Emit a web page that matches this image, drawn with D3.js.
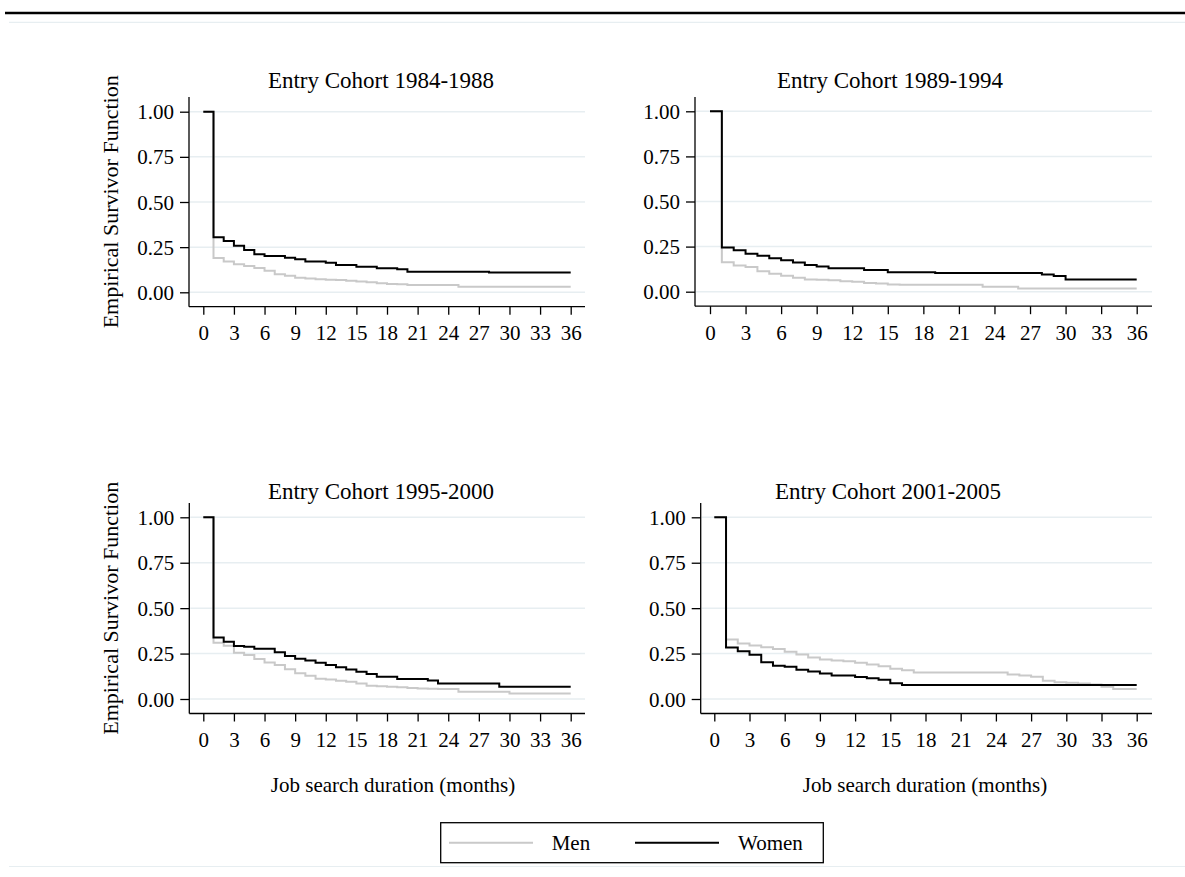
<!DOCTYPE html>
<html>
<head>
<meta charset="utf-8">
<script src="https://cdn.jsdelivr.net/npm/d3@7"></script>
<style>
  html, body { margin: 0; padding: 0; background: #fff; }
  svg text { font-family: "Liberation Serif", "Times New Roman", serif; fill: #000; }
</style>
</head>
<body>
<svg id="chart" width="1185" height="877"></svg>
<script>
// ---------------- DATA ----------------
const months = d3.range(0, 37);
const xTicks = [0, 3, 6, 9, 12, 15, 18, 21, 24, 27, 30, 33, 36];
const yTicks = [0, 0.25, 0.5, 0.75, 1];
const cohorts = ["Entry Cohort 1984-1988", "Entry Cohort 1989-1994", "Entry Cohort 1995-2000", "Entry Cohort 2001-2005"];
const seriesNames = ["Men", "Women"];

// Survivor values S(t) for t in [m, m+1), m = 0..36
const men1984 = [1, 0.19, 0.17, 0.155, 0.145, 0.135, 0.12, 0.10, 0.092, 0.08, 0.076, 0.072, 0.07, 0.068, 0.064, 0.06, 0.056, 0.05, 0.046, 0.044, 0.04, 0.04, 0.04, 0.04, 0.04, 0.031, 0.031, 0.031, 0.031, 0.031, 0.031, 0.031, 0.031, 0.031, 0.031, 0.031, 0.031];
const women1984 = [1, 0.305, 0.284, 0.258, 0.234, 0.21, 0.201, 0.201, 0.192, 0.183, 0.17, 0.17, 0.164, 0.151, 0.151, 0.142, 0.142, 0.133, 0.133, 0.127, 0.114, 0.114, 0.114, 0.114, 0.114, 0.114, 0.114, 0.114, 0.11, 0.11, 0.11, 0.11, 0.11, 0.11, 0.11, 0.11, 0.11];
const men1989 = [1, 0.163, 0.145, 0.137, 0.113, 0.1, 0.088, 0.078, 0.068, 0.066, 0.064, 0.058, 0.055, 0.048, 0.046, 0.04, 0.039, 0.039, 0.039, 0.039, 0.039, 0.039, 0.039, 0.028, 0.028, 0.028, 0.018, 0.018, 0.018, 0.018, 0.018, 0.018, 0.018, 0.018, 0.018, 0.018, 0.018];
const women1989 = [1, 0.245, 0.23, 0.21, 0.199, 0.185, 0.175, 0.162, 0.148, 0.139, 0.13, 0.13, 0.13, 0.12, 0.12, 0.108, 0.108, 0.108, 0.108, 0.103, 0.103, 0.103, 0.103, 0.103, 0.103, 0.103, 0.103, 0.103, 0.095, 0.087, 0.067, 0.067, 0.067, 0.067, 0.067, 0.067, 0.067];
const men1995 = [1, 0.31, 0.293, 0.255, 0.242, 0.22, 0.201, 0.187, 0.164, 0.142, 0.128, 0.112, 0.108, 0.1, 0.095, 0.085, 0.073, 0.07, 0.068, 0.064, 0.06, 0.058, 0.056, 0.055, 0.055, 0.04, 0.04, 0.04, 0.04, 0.04, 0.03, 0.03, 0.03, 0.03, 0.03, 0.03, 0.03];
const women1995 = [1, 0.339, 0.315, 0.292, 0.287, 0.277, 0.277, 0.257, 0.236, 0.221, 0.212, 0.199, 0.187, 0.175, 0.163, 0.15, 0.138, 0.123, 0.123, 0.11, 0.11, 0.11, 0.102, 0.085, 0.085, 0.085, 0.085, 0.085, 0.085, 0.068, 0.068, 0.068, 0.068, 0.068, 0.068, 0.068, 0.068];
const men2001 = [1, 0.327, 0.305, 0.294, 0.285, 0.275, 0.26, 0.245, 0.228, 0.218, 0.212, 0.208, 0.2, 0.19, 0.18, 0.167, 0.158, 0.146, 0.146, 0.146, 0.146, 0.146, 0.146, 0.146, 0.146, 0.135, 0.13, 0.123, 0.101, 0.092, 0.09, 0.085, 0.08, 0.068, 0.055, 0.055, 0.055];
const women2001 = [1, 0.284, 0.263, 0.243, 0.202, 0.183, 0.178, 0.161, 0.152, 0.141, 0.13, 0.13, 0.121, 0.114, 0.106, 0.086, 0.077, 0.077, 0.077, 0.077, 0.077, 0.077, 0.077, 0.077, 0.077, 0.077, 0.077, 0.077, 0.077, 0.077, 0.077, 0.077, 0.077, 0.077, 0.077, 0.077, 0.077];

const menSeries = [men1984, men1989, men1995, men2001];
const womenSeries = [women1984, women1989, women1995, women2001];

// ---------------- LAYOUT ----------------
const panels = [
  { axisX: 189, right: 585, x0: 203.3, x36: 570.7, y0: 292.3, y1: 111.7, top: 97, bottom: 306.7, titleX: 381, titleY: 88, yTitle: true, xTitle: false, xTitleX: 0 },
  { axisX: 695, right: 1152, x0: 710, x36: 1136.7, y0: 291.7, y1: 111.3, top: 97, bottom: 306.2, titleX: 890, titleY: 88, yTitle: false, xTitle: false, xTitleX: 0 },
  { axisX: 189.3, right: 585, x0: 203.3, x36: 570.7, y0: 699, y1: 517.3, top: 503, bottom: 713.5, titleX: 381, titleY: 499, yTitle: true, xTitle: true, xTitleX: 393 },
  { axisX: 700.7, right: 1152, x0: 714.3, x36: 1136.7, y0: 699, y1: 517.3, top: 503, bottom: 713.5, titleX: 888, titleY: 499, yTitle: false, xTitle: true, xTitleX: 925 }
];
const FS = 21;
const menColor = "#c9c9c9";
const womenColor = "#000000";
const gridColor = "#e7eef1";

const svg = d3.select("#chart");

// frame rules
svg.append("line").attr("x1", 5).attr("x2", 1185).attr("y1", 13).attr("y2", 13)
  .attr("stroke", "#000").attr("stroke-width", 2.5);
svg.append("line").attr("x1", 9).attr("x2", 1185).attr("y1", 22.3).attr("y2", 22.3)
  .attr("stroke", gridColor).attr("stroke-width", 1.2);
svg.append("line").attr("x1", 9).attr("x2", 1185).attr("y1", 866.5).attr("y2", 866.5)
  .attr("stroke", gridColor).attr("stroke-width", 1.2);

panels.forEach((p, i) => {
  const x = d3.scaleLinear().domain([0, 36]).range([p.x0, p.x36]);
  const y = d3.scaleLinear().domain([0, 1]).range([p.y0, p.y1]);
  const g = svg.append("g");

  // grid
  g.selectAll("line.grid").data(yTicks).join("line")
    .attr("class", "grid")
    .attr("x1", p.axisX + 1).attr("x2", p.right)
    .attr("y1", d => y(d)).attr("y2", d => y(d))
    .attr("stroke", gridColor).attr("stroke-width", 1.5);

  // lines
  const line = d3.line().x((d, k) => x(months[k])).y(d => y(d)).curve(d3.curveStepAfter);
  g.append("path").datum(menSeries[i]).attr("d", line)
    .attr("fill", "none").attr("stroke", menColor).attr("stroke-width", 2);
  g.append("path").datum(womenSeries[i]).attr("d", line)
    .attr("fill", "none").attr("stroke", womenColor).attr("stroke-width", 2);

  // y axis
  const ya = g.append("g").attr("transform", `translate(${p.axisX},0)`)
    .call(d3.axisLeft(y).tickValues(yTicks).tickFormat(d3.format(".2f")).tickSize(9).tickPadding(6));
  ya.select(".domain").remove();
  ya.selectAll(".tick line").attr("stroke", "#000").attr("stroke-width", 1.3);
  ya.selectAll(".tick text").attr("font-size", FS).attr("font-family", "Liberation Serif").attr("dy", "0.34em");
  g.append("line").attr("x1", p.axisX).attr("x2", p.axisX).attr("y1", p.top).attr("y2", p.bottom)
    .attr("stroke", "#000").attr("stroke-width", 1.3);

  // x axis
  const xa = g.append("g").attr("transform", `translate(0,${p.bottom})`)
    .call(d3.axisBottom(x).tickValues(xTicks).tickFormat(d3.format("d")).tickSize(8).tickPadding(10.5));
  xa.select(".domain").remove();
  xa.selectAll(".tick line").attr("stroke", "#000").attr("stroke-width", 1.3);
  xa.selectAll(".tick text").attr("font-size", FS).attr("font-family", "Liberation Serif");
  g.append("line").attr("x1", p.axisX).attr("x2", p.right).attr("y1", p.bottom).attr("y2", p.bottom)
    .attr("stroke", "#000").attr("stroke-width", 1.3);

  // title
  g.append("text").attr("x", p.titleX).attr("y", p.titleY).attr("text-anchor", "middle")
    .attr("font-size", 23).text(cohorts[i]);

  if (p.yTitle) {
    const cy = (p.top + p.bottom) / 2;
    g.append("text").attr("transform", `translate(110,${cy}) rotate(-90)`)
      .attr("text-anchor", "middle").attr("dy", "0.35em").attr("font-size", 22)
      .text("Empirical Survivor Function");
  }
  if (p.xTitle) {
    g.append("text").attr("x", p.xTitleX).attr("y", 792).attr("text-anchor", "middle")
      .attr("font-size", FS).text("Job search duration (months)");
  }
});

// legend
const lg = svg.append("g");
lg.append("rect").attr("x", 440.7).attr("y", 822.7).attr("width", 382.6).attr("height", 40)
  .attr("fill", "#fff").attr("stroke", "#000").attr("stroke-width", 1.3);
const legendItems = [
  { name: seriesNames[0], color: menColor, lx: 449, tx: 551.7 },
  { name: seriesNames[1], color: womenColor, lx: 635, tx: 738 }
];
legendItems.forEach(it => {
  lg.append("line").attr("x1", it.lx).attr("x2", it.lx + 84).attr("y1", 842.7).attr("y2", 842.7)
    .attr("stroke", it.color).attr("stroke-width", 2);
  lg.append("text").attr("x", it.tx).attr("y", 842.7).attr("dy", "0.34em").attr("font-size", FS).text(it.name);
});
</script>
</body>
</html>
